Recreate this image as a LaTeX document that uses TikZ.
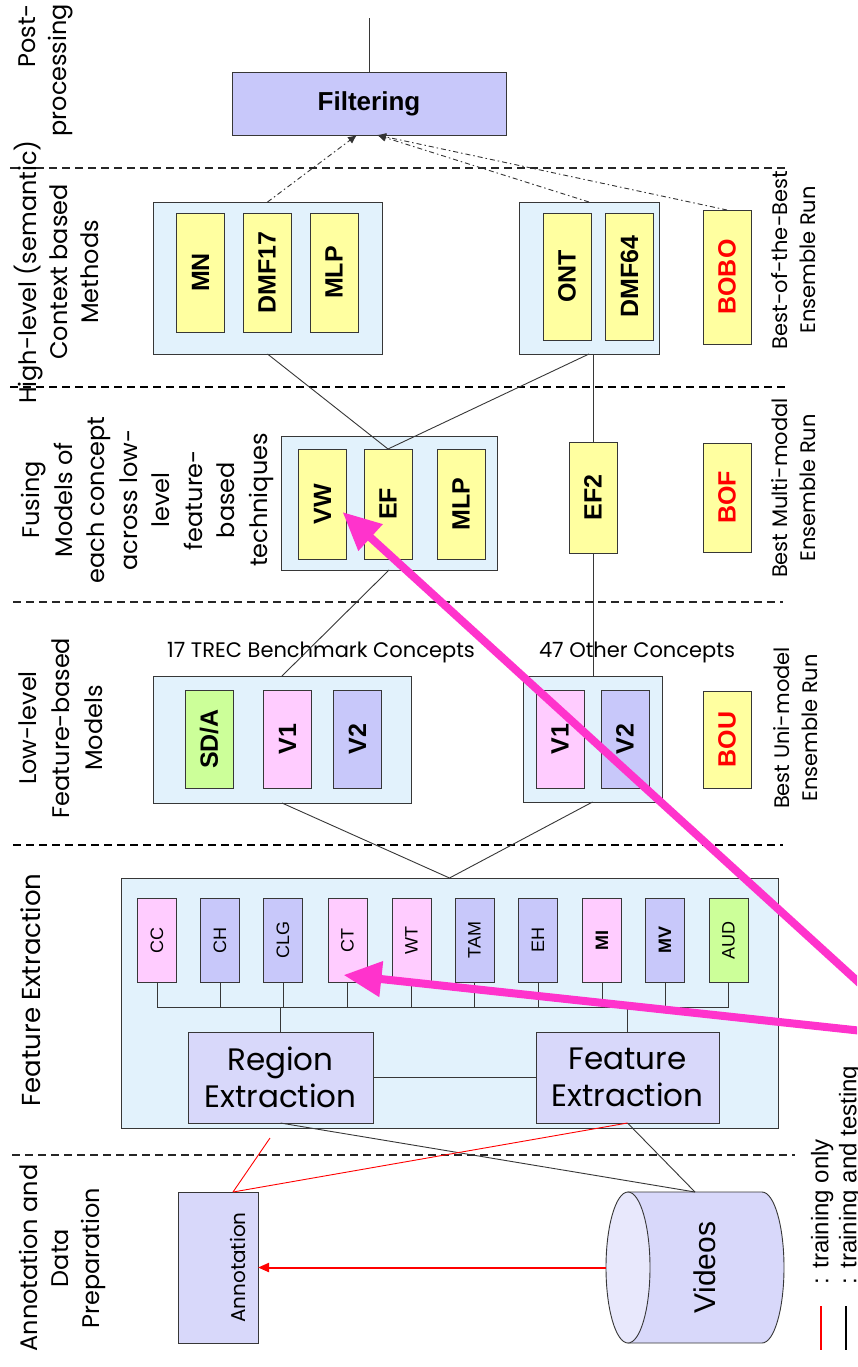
\documentclass[tikz,border=0pt]{standalone}
\usepackage{fontspec}
\usepackage{graphicx}
\setmainfont{Liberation Sans}
\newfontfamily\comic{Poppins}
\usetikzlibrary{arrows.meta,calc}

\definecolor{cLav}{RGB}{200,200,250}
\definecolor{cLavLight}{RGB}{216,216,250}
\definecolor{cLavEnd}{RGB}{232,232,252}
\definecolor{cPanel}{RGB}{226,242,252}
\definecolor{cYel}{RGB}{255,255,160}
\definecolor{cPink}{RGB}{255,204,255}
\definecolor{cGreen}{RGB}{204,255,153}
\definecolor{cMag}{RGB}{255,51,204}
\definecolor{cLine}{RGB}{55,55,55}

% rotated (bottom-to-top) text, single line or stacked lines
\newcommand{\vt}[1]{\rotatebox{90}{#1}}
\newcommand{\vlines}[2][c]{\rotatebox{90}{\begin{tabular}{@{}#1@{}}#2\end{tabular}}}

\tikzset{
  every node/.style={inner sep=0pt, outer sep=0pt},
  edge/.style={draw=cLine, line width=0.9pt},
  trainonly/.style={draw=red, line width=0.9pt},
  panel/.style={draw=cLine, line width=0.9pt, fill=cPanel},
  mbox/.style={draw=cLine, line width=0.9pt, fill=cYel, minimum width=48pt,
    font=\fontsize{25}{25}\selectfont\bfseries},
  feat/.style={draw=cLine, line width=0.9pt, minimum width=39pt, minimum height=84pt,
    font=\fontsize{18}{18}\selectfont},
  procbox/.style={draw=cLine, line width=0.9pt, fill=cLavLight, align=center,
    font=\comic\fontsize{31}{37}\selectfont},
  lane/.style={font=\comic\fontsize{24}{31}\selectfont},
  runlbl/.style={font=\comic\fontsize{21}{28}\selectfont},
  caption/.style={font=\comic\fontsize{21}{21}\selectfont},
  legendtxt/.style={anchor=south west, font=\fontsize{24}{24}\selectfont},
  septhin/.style={draw=black!85, line width=1.2pt, dash pattern=on 8pt off 5pt},
  septhick/.style={draw=black, line width=2.6pt, dash pattern=on 8pt off 5pt},
  toflt/.style={draw=black!80, line width=0.9pt, dash pattern=on 5pt off 3pt on 1.5pt off 3pt,
    -{Latex[length=9pt,width=8pt]}},
  hilite/.style={draw=cMag, line width=8pt, -{Triangle[length=38pt,width=34pt]}},
}

\begin{document}
\begin{tikzpicture}[x=1pt,y=-1pt]
\fill[white] (0,0) rectangle (857,1367);
\useasboundingbox (0,0) rectangle (857,1367);
\clip (0,0) rectangle (857,1367);

% ---- lane separators ----
\draw[septhin]  (10,168)  -- (788,168);
\draw[septhick] (10,387)  -- (788,387);
\draw[septhin]  (13,602)  -- (783,602);
\draw[septhick] (13,845)  -- (783,845);
\draw[septhin]  (12,1155) -- (795,1155);

% ---- lane titles ----
\node[lane, anchor=north] (lpost) at (45,4) {\vlines[r]{Post-\\processing}};
\node[lane] (lhigh) at (61,272) {\vlines{High-level (semantic)\\Context based\\Methods}};
\node[lane, font=\comic\fontsize{24}{32.5}\selectfont] (lfuse) at (147,500)
  {\vlines{Fusing\\Models of\\each concept\\across low-\\level\\feature-\\based\\techniques}};
\node[lane, font=\comic\fontsize{24}{33}\selectfont] (llow) at (63,728) {\vlines{Low-level\\Feature-based\\Models}};
\node[lane, font=\comic\fontsize{26}{26}\selectfont] (lfeat) at (31,990) {\vt{Feature Extraction}};
\node[lane] (lann) at (62,1258) {\vlines{Annotation and\\Data\\Preparation}};

% ---- run titles ----
\node[runlbl] (rbobo) at (796,260) {\vlines{Best-of-the-Best\\Ensemble Run}};
\node[runlbl] (rbof)  at (796,488) {\vlines{Best Multi-modal\\Ensemble Run}};
\node[runlbl] (rbou)  at (798,728) {\vlines{Best Uni-model\\Ensemble Run}};

% ---- post-processing ----
\node[draw=cLine, line width=0.9pt, fill=cLav, minimum width=274pt, minimum height=63pt,
  font=\fontsize{26}{26}\selectfont\bfseries] (filt) at (369,103.5) {Filtering};
\coordinate (outp) at (369,18);

% ---- high-level context methods ----
\node[panel, minimum width=229pt, minimum height=152pt] (ctxa) at (267.5,278) {};
\node[mbox, minimum height=119pt] (mn)   at (200.5,272.5) {\vt{MN}};
\node[mbox, minimum height=119pt] (dmfa) at (267,272.5)   {\vt{DMF17}};
\node[mbox, minimum height=119pt] (mlpa) at (334,272.5)   {\vt{MLP}};

\node[panel, minimum width=140pt, minimum height=152pt] (ctxb) at (589,278) {};
\node[mbox, minimum height=127pt] (ont)  at (567,276.5)   {\vt{ONT}};
\node[mbox, minimum height=127pt] (dmfb) at (629.5,276.5) {\vt{DMF64}};
\node[mbox, minimum height=134pt, text=red] (bobo) at (727,277) {\vt{BOBO}};

% ---- fusion ----
\node[panel, minimum width=216pt, minimum height=134pt] (fus) at (389,503) {};
\node[mbox, minimum height=110pt] (vw)   at (322.5,504) {\vt{VW}};
\node[mbox, minimum height=110pt] (ef)   at (388,504)   {\vt{EF}};
\node[mbox, minimum height=110pt] (mlpb) at (461,504)   {\vt{MLP}};
\node[mbox, minimum height=111pt] (efb)  at (593,497.5) {\vt{EF2}};
\node[mbox, minimum height=109pt, text=red] (bof) at (727,497.5) {\vt{BOF}};

% ---- low-level models ----
\node[caption] (capa) at (321,652) {17 TREC Benchmark Concepts};
\node[caption] (capb) at (637,652) {47 Other Concepts};

\node[panel, minimum width=258pt, minimum height=127pt] (lowa) at (282,739.5) {};
\node[mbox, fill=cGreen, minimum height=98pt] (sda) at (209,739)   {\vt{SD/A}};
\node[mbox, fill=cPink,  minimum height=98pt] (va)  at (287.5,739) {\vt{V1}};
\node[mbox, fill=cLav,   minimum height=98pt] (vb)  at (357.5,739) {\vt{V2}};

\node[panel, minimum width=139pt, minimum height=126pt] (lowb) at (592.5,739) {};
\node[mbox, fill=cPink, minimum height=98pt] (vc) at (560,739) {\vt{V1}};
\node[mbox, fill=cLav,  minimum height=98pt] (vd) at (625,739) {\vt{V2}};
\node[mbox, minimum height=97pt, text=red] (bou) at (727,739.5) {\vt{BOU}};

% ---- feature extraction ----
\node[panel, minimum width=657pt, minimum height=250pt] (fx) at (449.5,1003) {};
\node[feat, fill=cPink]  (cc)  at (157,940)   {\vt{CC}};
\node[feat, fill=cLav]   (ch)  at (220,940)   {\vt{CH}};
\node[feat, fill=cLav]   (clg) at (283,940)   {\vt{CLG}};
\node[feat, fill=cPink]  (ct)  at (347.5,940) {\vt{CT}};
\node[feat, fill=cPink]  (wt)  at (411.5,940) {\vt{WT}};
\node[feat, fill=cLav]   (tam) at (474.5,940) {\vt{TAM}};
\node[feat, fill=cLav]   (eh)  at (538,940)   {\vt{EH}};
\node[feat, fill=cPink]  (mi)  at (602,940)   {\vt{\bfseries MI}};
\node[feat, fill=cLav]   (mv)  at (665,940)   {\vt{\bfseries MV}};
\node[feat, fill=cGreen] (aud) at (728.5,940) {\vt{AUD}};

\node[procbox, minimum width=185pt, minimum height=91pt] (reg) at (280.5,1077.5) {Region\\Extraction};
\node[procbox, minimum width=183pt, minimum height=91pt] (fe)  at (627.5,1077.5) {Feature\\Extraction};

\coordinate (busl) at (157,1007);
\coordinate (busr) at (728.5,1007);
\draw[edge] (busl) -- (busr);
\foreach \n in {cc,ch,clg,ct,wt,tam,eh,mi,mv,aud}
  \draw[edge] (\n.south) -- (\n.south |- busl);
\draw[edge] (reg.north) -- (reg.north |- busl);
\draw[edge] (fe.north) -- (fe.north |- busl);
\draw[edge] (reg.east) -- (fe.west);

% ---- annotation and data ----
\node[draw=cLine, line width=0.9pt, fill=cLavLight, minimum width=80pt, minimum height=151pt,
  font=\comic\fontsize{20}{20}\selectfont] (ann) at (218,1267.5) {\hspace*{40pt}\vt{Annotation}};

% video store drawn as a lying cylinder
\path[draw=cLine, line width=0.9pt, fill=cLavLight]
  (628,1192) -- (762,1192) arc[start angle=90, end angle=-90, x radius=22pt, y radius=75.5pt]
  -- (628,1343) -- cycle;
\path[draw=cLine, line width=0.9pt, fill=cLavEnd] (628,1267.5) ellipse [x radius=22pt, y radius=75.5pt];
\node[minimum width=178pt, minimum height=151pt, font=\fontsize{30}{30}\selectfont] (videos)
  at (695,1267.5) {\hspace*{20pt}\vt{Videos}};

% ---- connectors ----
\draw[edge] (filt) -- (outp);
\draw[toflt] (ctxa.north) -- ($(filt.south)+(-12,0)$);
\draw[toflt] (ctxb.north) -- ($(filt.south)+(8,0)$);
\draw[toflt] (bobo.north) -- ($(filt.south)+(8,0)$);

\draw[edge] (ctxa.south) -- (ef.north);
\draw[edge] (ctxb.south) -- (ef.north);
\draw[edge] (ctxb.south -| efb.north) -- (efb.north);
\draw[edge] (fus.south) -- (lowa.north);
\draw[edge] (efb.south) -- (efb.south |- lowb.north);
\draw[edge] (lowa.south) -- (fx.north);
\draw[edge] (lowb.south) -- (fx.north);

\draw[edge] (reg.south) -- (videos.north);
\draw[edge] (fe.south) -- (videos.north);
\coordinate (annup) at ($(ann.north)+(15,0)$);
\coordinate (redstub) at (270,1138);
\draw[trainonly] (annup) -- (redstub);
\draw[trainonly] (annup) -- (fe.south);
\draw[trainonly, line width=2pt, -{Triangle[length=11pt,width=9pt]}] (videos.west) -- (ann.east);

% ---- legend ----
\draw[red, line width=1.3pt] (821,1306) -- (821,1350);
\draw[black, line width=1.3pt] (846,1306) -- (846,1350);
\node[legendtxt] (lgtr) at (811,1284) {\vt{: training only}};
\node[legendtxt] (lgtt) at (839,1284) {\vt{: training and testing}};

% ---- highlight arrows ----
\coordinate (pinka) at (900,1020);
\coordinate (pinkb) at (900,1035);
\draw[hilite] (pinka) -- ($(vw.east)+(-4,8)$);
\draw[hilite] (pinkb) -- ($(ct.south)+(-4,-7)$);
\end{tikzpicture}
\end{document}
